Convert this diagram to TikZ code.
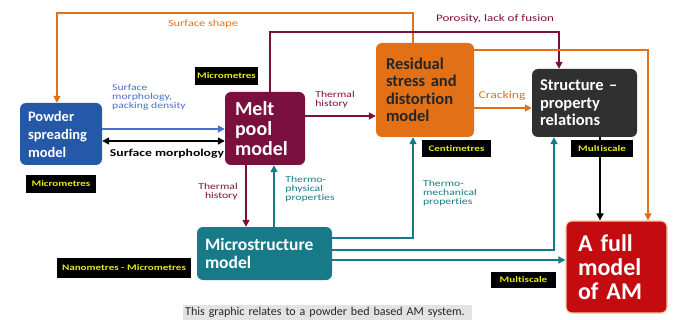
\documentclass[tikz,border=0pt]{standalone}
\usepackage{fontspec}
\setmainfont{Carlito}[Ligatures=CommonOff]
\newfontfamily\widefont{Carlito}[FakeStretch=1.3,Ligatures=CommonOff]
\usetikzlibrary{arrows.meta}
\definecolor{pblue}{RGB}{38,88,168}
\definecolor{lblue}{RGB}{72,112,205}
\definecolor{maroon}{RGB}{122,16,62}
\definecolor{orng}{RGB}{226,112,22}
\definecolor{dgray}{RGB}{48,48,48}
\definecolor{teal}{RGB}{22,122,136}
\definecolor{fred}{RGB}{196,12,16}
\definecolor{scaley}{RGB}{232,232,20}
\newcommand{\BIG}[2]{\fontsize{#1}{#2}\selectfont\bfseries}
\newcommand{\SMALL}{\widefont\fontsize{9}{9}\selectfont}

\tikzset{
  model/.style={rounded corners=6pt,text=white,align=left,inner sep=0pt},
  scalebox/.style={fill=black,text=scaley,inner sep=0pt,font=\widefont\fontsize{8.5}{9}\selectfont\bfseries},
  link/.style={line width=1.6pt,-{Triangle[length=7pt,width=7pt]}},
  lab/.style={font=\SMALL,align=left,inner sep=0pt}
}

\begin{document}
\begin{tikzpicture}[x=1pt,y=-1pt]
  \useasboundingbox (0,0) rectangle (676,320);
  % the models
  \node[model,fill=pblue,minimum width=82pt,minimum height=62pt,text width=66pt,font=\BIG{14.5}{18}] (powder) at (61,134) {Powder\\spreading\\model};
  \node[model,fill=maroon,minimum width=80pt,minimum height=73pt,text width=60pt,font=\BIG{20}{20}] (melt) at (265,128.5) {Melt\\pool\\model};
  \node[model,fill=orng,text=black!85,minimum width=98pt,minimum height=94pt,text width=78pt,font=\BIG{16.5}{17.5}] (resid) at (425,90) {Residual\\stress and\\distortion\\model};
  \node[model,fill=dgray,minimum width=105pt,minimum height=68pt,text width=89pt,font=\BIG{16.5}{17.5}] (struct) at (584.5,103) {Structure --\\property\\relations};
  \node[model,fill=teal,minimum width=135pt,minimum height=53pt,text width=119pt,font=\BIG{17.5}{18}] (micro) at (264.5,253.5) {Microstructure\\model};
  \node[model,fill=fred,draw=orng!40,line width=1.2pt,minimum width=101pt,minimum height=92pt,text width=77pt,font=\BIG{24}{24}] (full) at (616.5,267) {A full\\model\\of AM};

  % length scales
  \node[scalebox,minimum width=70pt,minimum height=18pt] (scpowder) at (61,184) {Micrometres};
  \node[scalebox,minimum width=63pt,minimum height=18pt] (scmelt) at (226.5,76) {Micrometres};
  \node[scalebox,minimum width=69pt,minimum height=17pt] (scresid) at (456.5,148.5) {Centimetres};
  \node[scalebox,minimum width=62pt,minimum height=17pt] (scstruct) at (602,148.5) {Multiscale};
  \node[scalebox,minimum width=134pt,minimum height=20pt] (scmicro) at (124,268) {Nanometres - Micrometres};
  \node[scalebox,minimum width=65pt,minimum height=16pt] (scfull) at (523.5,280) {Multiscale};

  % links between the models
  \draw[link,orng] (resid.north -| 413,0) |- (57,13) -- (powder.north -| 57,0);
  \draw[link,maroon] (melt.north -| 270,0) |- (559,32) -- (struct.north -| 559,0);
  \draw[link,orng] (resid.east |- 0,50) -| (full.north -| 648,0);
  \draw[link,lblue] (powder.east |- 0,129) -- (melt.west |- 0,129);
  \draw[link,{Triangle[length=7pt,width=7pt]}-{Triangle[length=7pt,width=7pt]},black] (powder.east |- 0,141) -- (melt.west |- 0,141);
  \draw[link,maroon] (melt.east |- 0,116) -- (resid.west |- 0,116);
  \draw[link,orng] (resid.east |- 0,108) -- (struct.west |- 0,108);
  \draw[link,maroon] (melt.south -| 246,0) -- (micro.north -| 246,0);
  \draw[link,teal] (micro.north -| 274,0) -- (melt.south -| 274,0);
  \draw[link,teal] (micro.east |- 0,238) -| (resid.south -| 413,0);
  \draw[link,teal] (micro.east |- 0,250) -| (struct.south -| 554,0);
  \draw[link,teal] (micro.east |- 0,260) -- (full.west |- 0,260);
  \draw[link,black] (struct.south -| 600,0) -- (full.north -| 600,0);

  % link labels
  \node[lab,orng,font=\widefont\fontsize{9.5}{11}\selectfont] (lshape) at (203,24) {Surface shape};
  \node[lab,maroon,font=\widefont\fontsize{10}{11}\selectfont] (lporo) at (495,19) {Porosity, lack of fusion};
  \node[lab,lblue,anchor=north west] (lpack) at (112,84) {Surface\\morphology,\\packing density};
  \node[lab,black,font=\widefont\fontsize{10.5}{12}\selectfont\bfseries] (lmorph) at (167,154) {Surface morphology};
  \node[lab,maroon] (lthermA) at (335,100) {Thermal\\history};
  \node[lab,orng,font=\widefont\fontsize{10.5}{12}\selectfont] (lcrack) at (502,96) {Cracking};
  \node[lab,maroon,align=right] (lthermB) at (218,192) {Thermal\\history};
  \node[lab,teal] (lphys) at (310,189) {Thermo-\\physical\\properties};
  \node[lab,teal] (lmech) at (450,193) {Thermo-\\mechanical\\properties};

  % caption
  \node[fill=gray!22,inner xsep=2pt,inner ysep=0pt,text width=285pt,align=left,minimum height=15pt,anchor=north west,text=black!85,font=\fontsize{12}{13}\selectfont] (caption) at (183,305) {This graphic relates to a powder bed based AM system.};
\end{tikzpicture}
\end{document}
